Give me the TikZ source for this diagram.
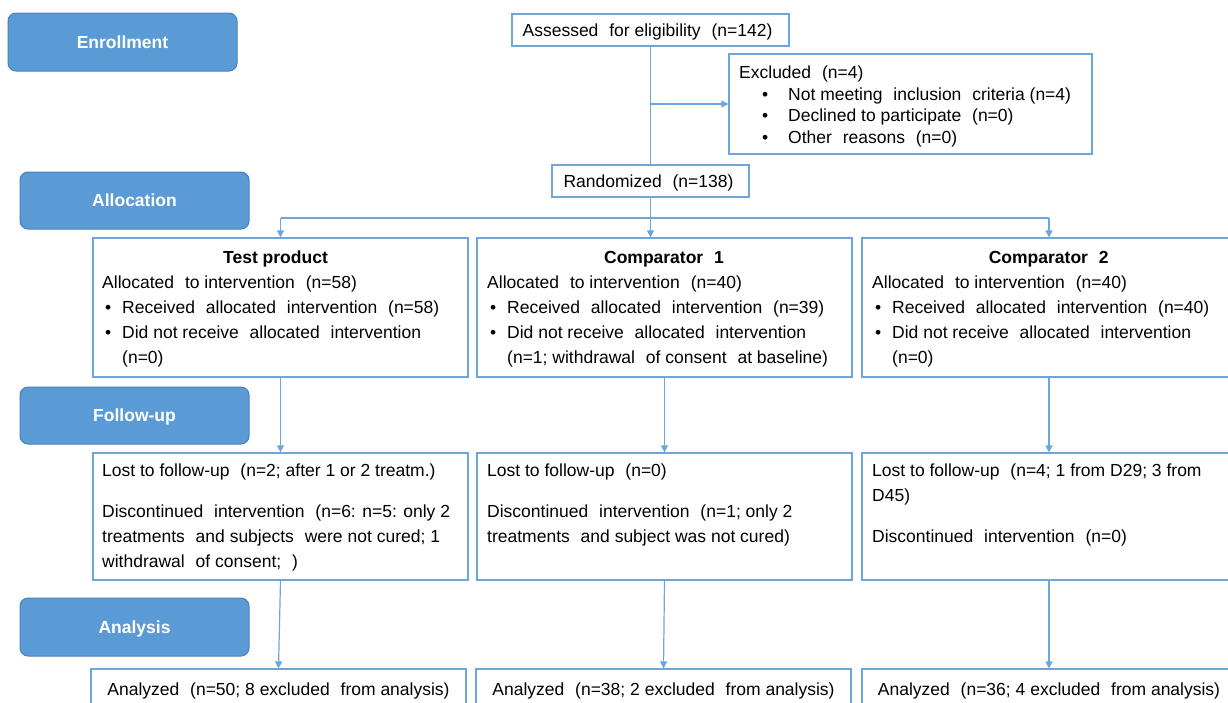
\documentclass[tikz,border=0pt]{standalone}
\usepackage{fontspec}
\setmainfont{Liberation Sans}
\usetikzlibrary{arrows.meta}
\definecolor{lblfill}{RGB}{91,155,213}
\definecolor{lbldraw}{RGB}{70,130,190}
\definecolor{boxline}{RGB}{110,165,218}
\newcommand\dsp{\hspace{0.62em}}
\newcommand\fst{\rule{0pt}{14pt}}
\newcommand\bul{\makebox[20pt][l]{\hspace{3pt}\textbullet}}
\newcommand\hang{\hspace*{20pt}}
\begin{document}
\begin{tikzpicture}[x=1pt,y=-1pt,
  lbl/.style={draw=lbldraw,fill=lblfill,rounded corners=8pt,line width=1pt,
    minimum width=229pt,minimum height=58pt,inner sep=0pt,text=white,
    text height=12.6pt,text depth=0pt,
    font=\fontsize{17.5}{21}\selectfont\bfseries},
  bx/.style={draw=boxline,line width=1.2pt,inner sep=0pt,
    font=\fontsize{17.5}{25}\selectfont},
  one/.style={text height=12.6pt,text depth=0pt},
  txt/.style={anchor=north west,inner sep=0pt,align=left,
    font=\fontsize{17.5}{25}\selectfont},
  ttl/.style={anchor=base,inner sep=0pt,font=\fontsize{17.5}{25}\selectfont\bfseries},
  ln/.style={draw=boxline,line width=1.2pt},
  arr/.style={ln,-{Triangle[width=7pt,length=7pt]}}]
\useasboundingbox (0,0) rectangle (1228,702);
\clip (0,0) rectangle (1228,702);
\fill[white] (0,0) rectangle (1228,702);

% stage labels
\node[lbl] (enr) at (122.5,42) {Enrollment};
\node[lbl,minimum height=57pt] (alloc) at (134.5,200.5) {Allocation};
\node[lbl,minimum height=57pt] (fol) at (134.5,415.5) {Follow-up};
\node[lbl] (ana) at (134.5,627) {Analysis};

% enrollment
\node[bx,one,minimum width=277pt,minimum height=32pt] (ass) at (650.5,30) {\hspace*{-6pt}Assessed\dsp for eligibility\dsp (n=142)};
\node[bx,minimum width=363pt,minimum height=100pt] (exc) at (910.5,104) {};
\node[txt,font=\fontsize{17.5}{21.7}\selectfont] (exct) at (739,64.3) {\fst Excluded\dsp (n=4)\\
\hspace*{23pt}\makebox[26pt][l]{\textbullet}Not meeting\dsp inclusion\dsp criteria (n=4)\\
\hspace*{23pt}\makebox[26pt][l]{\textbullet}Declined to participate\dsp (n=0)\\
\hspace*{23pt}\makebox[26pt][l]{\textbullet}Other\dsp reasons\dsp (n=0)};
\node[bx,one,minimum width=197pt,minimum height=32pt] (rnd) at (650.5,181) {\hspace*{-4pt}Randomized\dsp (n=138)};

% allocation boxes
\node[bx,minimum width=375pt,minimum height=139pt] (tp) at (280.5,307.5) {};
\node[bx,minimum width=375pt,minimum height=139pt] (c1) at (664.5,307.5) {};
\node[bx,minimum width=374pt,minimum height=139pt] (c2) at (1049,307.5) {};
\node[ttl] (tpt) at (275.5,263.3) {Test product};
\node[ttl] (c1t) at (664,263.3) {Comparator\dsp 1};
\node[ttl] (c2t) at (1048.7,263.3) {Comparator\dsp 2};
\node[txt] (tpb) at (102,274.3) {\fst Allocated\dsp to intervention\dsp (n=58)\\
\bul Received\dsp allocated\dsp intervention\dsp (n=58)\\
\bul Did not receive\dsp allocated\dsp intervention\\
\hang(n=0)};
\node[txt] (c1b) at (487,274.3) {\fst Allocated\dsp to intervention\dsp (n=40)\\
\bul Received\dsp allocated\dsp intervention\dsp (n=39)\\
\bul Did not receive\dsp allocated\dsp intervention\\
\hang(n=1; withdrawal\dsp of consent\dsp at baseline)};
\node[txt] (c2b) at (872,274.3) {\fst Allocated\dsp to intervention\dsp (n=40)\\
\bul Received\dsp allocated\dsp intervention\dsp (n=40)\\
\bul Did not receive\dsp allocated\dsp intervention\\
\hang(n=0)};

% follow-up boxes
\node[bx,minimum width=375pt,minimum height=127pt] (tpf) at (280.5,516.5) {};
\node[bx,minimum width=375pt,minimum height=127pt] (c1f) at (664.5,516.5) {};
\node[bx,minimum width=374pt,minimum height=127pt] (c2f) at (1049,516.5) {};
\node[txt] (tpft) at (102,462.3) {\fst Lost to follow-up\dsp (n=2; after 1 or 2 treatm.)\\[16pt]
Discontinued\dsp intervention\dsp (n=6: n=5: only 2\\
treatments\dsp and subjects\dsp were not cured; 1\\
withdrawal\dsp of consent;\dsp )};
\node[txt] (c1ft) at (487,462.3) {\fst Lost to follow-up\dsp (n=0)\\[16pt]
Discontinued\dsp intervention\dsp (n=1; only 2\\
treatments\dsp and subject was not cured)};
\node[txt] (c2ft) at (872,462.3) {\fst Lost to follow-up\dsp (n=4; 1 from D29; 3 from\\
D45)\\[16pt]
Discontinued\dsp intervention\dsp (n=0)};

% analysis boxes
\node[bx,one,minimum width=375pt,minimum height=40pt] (tpa) at (278.5,689) {Analyzed\dsp (n=50; 8 excluded\dsp from analysis)};
\node[bx,one,minimum width=375pt,minimum height=40pt] (c1a) at (663.5,689) {Analyzed\dsp (n=38; 2 excluded\dsp from analysis)};
\node[bx,one,minimum width=374pt,minimum height=40pt] (c2a) at (1049,689) {Analyzed\dsp (n=36; 4 excluded\dsp from analysis)};

% connectors
\coordinate (br) at (650.5,104);
\coordinate (hl) at (280.5,218);
\coordinate (hr) at (1049,218);
\draw[ln] (ass.south) -- (rnd.north);
\draw[arr] (br) -- (exc.west);
\draw[arr] (rnd.south) -- (rnd.south |- c1.north);
\draw[ln] (hl) -- (hr);
\draw[arr] (hl) -- (tp.north);
\draw[arr] (hr) -- (c2.north);
\draw[arr] (tp.south) -- (tpf.north);
\draw[arr] (c1.south) -- (c1f.north);
\draw[arr] (c2.south) -- (c2f.north);
\draw[arr] (tpf.south) -- (tpa.north);
\draw[arr] (c1f.south) -- (c1a.north);
\draw[arr] (c2f.south) -- (c2a.north);
\end{tikzpicture}
\end{document}
